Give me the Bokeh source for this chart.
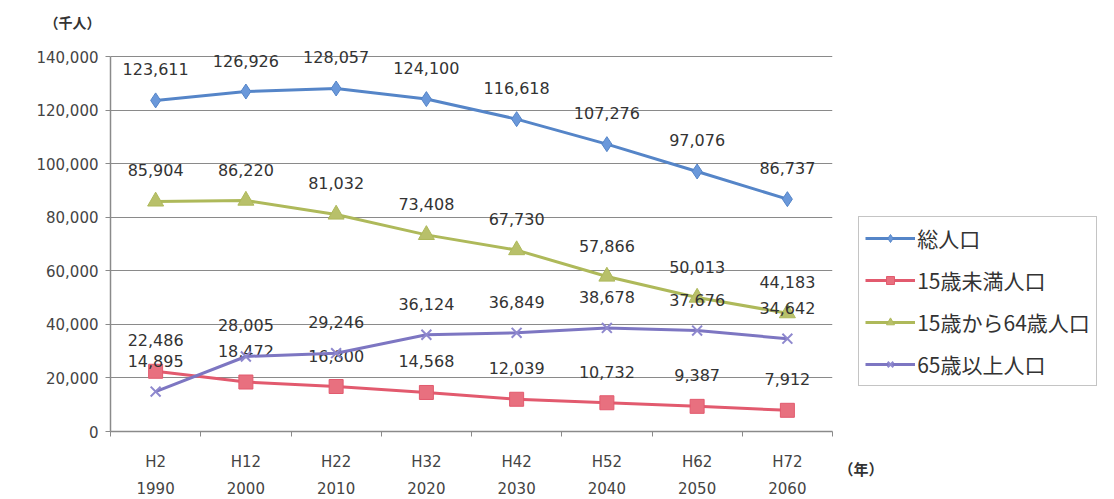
from bokeh.plotting import figure
from bokeh.models import (ColumnDataSource, Range1d, FixedTicker, NumeralTickFormatter,
                          Legend, LegendItem, LinearAxis)
from bokeh.core.properties import value
from bokeh.embed import file_html
from bokeh.resources import INLINE

# ---- data ----
eras = ["H2", "H12", "H22", "H32", "H42", "H52", "H62", "H72"]
years = ["1990", "2000", "2010", "2020", "2030", "2040", "2050", "2060"]
total = [123611, 126926, 128057, 124100, 116618, 107276, 97076, 86737]
under15 = [22486, 18472, 16800, 14568, 12039, 10732, 9387, 7912]
age15_64 = [85904, 86220, 81032, 73408, 67730, 57866, 50013, 44183]
over65 = [14895, 28005, 29246, 36124, 36849, 38678, 37676, 34642]
series_names = ["総人口", "15歳未満人口", "15歳から64歳人口", "65歳以上人口"]
y_ticks = [0, 20000, 40000, 60000, 80000, 100000, 120000, 140000]
unit_label = "（千人）"
year_label = "（年）"

colors = ["#5585C8", "#E25A6E", "#AEB95A", "#7D76C2"]
fills = ["#6A98DA", "#E8707F", "#B8C06A", "#8E88CE"]
markers = ["diamond", "square", "triangle", "x"]
msizes = [15, 14, 16, 14]

n = len(eras)
xpos = [i + 0.5 for i in range(n)]

JP = "Noto Sans CJK JP"
NUMF = "DejaVu Sans"
GRAY = "#8a8a8a"

FRAME_H_AXIS = 375          # px between 0 and 140,000
FRAME_H = 391               # frame extends a little above the top gridline
y_top = y_ticks[-1] * FRAME_H / FRAME_H_AXIS

p = figure(frame_width=722, frame_height=FRAME_H,
           min_border_left=110, min_border_right=10,
           min_border_top=40, min_border_bottom=10,
           x_range=Range1d(0, n), y_range=Range1d(y_ticks[0], y_top),
           output_backend="svg", toolbar_location=None)
p.background_fill_color = "white"
p.border_fill_color = "white"
p.outline_line_color = None

# title used as the unit label
p.title.text = unit_label
p.title.align = "left"
p.title.offset = -66
p.title.standoff = 17
p.title.text_font = JP
p.title.text_font_size = "14px"
p.title.text_font_style = "bold"
p.title.text_color = "#333333"

# x axis
p.xaxis.ticker = FixedTicker(ticks=xpos, minor_ticks=list(range(n + 1)))
p.xaxis.major_label_overrides = {xv: f"{e}\n{y}" for xv, e, y in zip(xpos, eras, years)}
p.xaxis.major_tick_out = 0
p.xaxis.major_tick_in = 0
p.xaxis.minor_tick_out = 5
p.xaxis.minor_tick_in = 0
p.xaxis.minor_tick_line_color = GRAY
p.xaxis.axis_line_color = GRAY
p.xaxis.axis_line_width = 1.5
p.xaxis.major_label_text_font = NUMF
p.xaxis.major_label_text_font_size = "15px"
p.xaxis.major_label_text_color = "#444444"
p.xaxis.major_label_text_line_height = 1.53
p.xaxis.major_label_standoff = 16

# y axis
p.yaxis.ticker = FixedTicker(ticks=y_ticks)
p.yaxis.bounds = (y_ticks[0], y_ticks[-1])
p.yaxis.formatter = NumeralTickFormatter(format="0,0")
p.yaxis.minor_tick_line_color = None
p.yaxis.major_tick_out = 5
p.yaxis.major_tick_in = 0
p.yaxis.major_tick_line_color = GRAY
p.yaxis.axis_line_color = GRAY
p.yaxis.axis_line_width = 1.5
p.yaxis.major_label_text_font = NUMF
p.yaxis.major_label_text_font_size = "15px"
p.yaxis.major_label_text_color = "#444444"
p.yaxis.major_label_standoff = 7

p.xgrid.grid_line_color = None
p.ygrid.grid_line_color = GRAY
p.ygrid.grid_line_width = 1.2

items = []
for name, vals, c, f, m, s in zip(series_names, [total, under15, age15_64, over65],
                                  colors, fills, markers, msizes):
    src = ColumnDataSource(dict(x=xpos, y=vals, lab=[f"{v:,}" for v in vals]))
    r1 = p.line("x", "y", source=src, line_color=c, line_width=3)
    r2 = p.scatter("x", "y", source=src, marker=m, size=s, fill_color=f,
                   line_color=c if m != "x" else f, line_width=1 if m != "x" else 2)
    p.text("x", "y", text="lab", source=src, y_offset=-31, text_align="center",
           text_baseline="middle", text_font=value(NUMF), text_font_size="16px",
           text_color="#333333")
    items.append(LegendItem(label=name, renderers=[r1, r2]))

# "(年)" shown as the only label of an invisible right-hand axis
year_axis = LinearAxis(ticker=FixedTicker(ticks=[y_ticks[0]]),
                       major_label_overrides={y_ticks[0]: "\n\n" + year_label},
                       axis_line_color=None, major_tick_line_color=None,
                       minor_tick_line_color=None, major_label_standoff=0,
                       major_label_text_font=JP, major_label_text_font_size="15px",
                       major_label_text_font_style="bold", major_label_text_color="#333333",
                       major_label_text_line_height=1.75)
p.add_layout(year_axis, "right")

legend = Legend(items=items, location=(-253, 45), orientation="vertical",
                label_text_font=JP, label_text_font_size="21px", label_text_color="#333333",
                glyph_width=50, glyph_height=20, label_height=20, label_standoff=2,
                spacing=12, padding=6, margin=0,
                border_line_color=GRAY, border_line_width=1.2,
                background_fill_color="white", background_fill_alpha=1)
p.add_layout(legend, "right")

open("out.html", "w").write(file_html(p, INLINE))
